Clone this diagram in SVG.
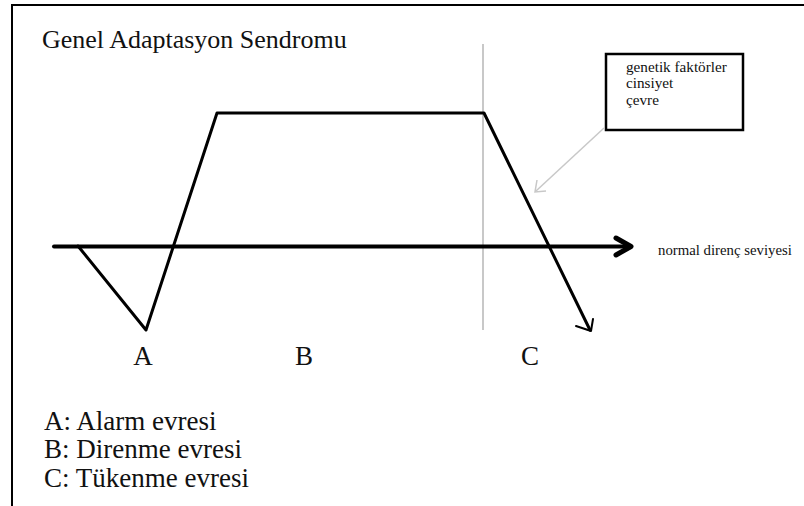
<svg xmlns="http://www.w3.org/2000/svg" width="804" height="506" viewBox="0 0 804 506">
<style>
text{font-family:"Liberation Serif","Times New Roman",serif;fill:#111}
.title{font-size:26px}
.lab{font-size:27px}
.leg{font-size:27px}
.small{font-size:15.2px}
.ln{fill:none;stroke:#000;stroke-linecap:round;stroke-linejoin:round}
.gr{fill:none;stroke:#c8c8c8}
</style>
<rect width="804" height="506" fill="#fff"/>
<g id="frame">
<line x1="12" y1="4" x2="12" y2="506" stroke="#000" stroke-width="2"/>
<line x1="11" y1="5" x2="804" y2="5" stroke="#000" stroke-width="2"/>
</g>
<g id="title"><text class="title" x="42" y="48">Genel Adaptasyon Sendromu</text></g>
<g id="divider"><line class="gr" x1="483" y1="44" x2="483" y2="330" stroke-width="2"/></g>
<g id="factors">
<rect x="606" y="54" width="137" height="76" fill="#fff" stroke="#000" stroke-width="2.5"/>
<text class="small" x="626" y="72">genetik faktörler</text>
<text class="small" x="626" y="88">cinsiyet</text>
<text class="small" x="626" y="105">çevre</text>
</g>
<g id="axis">
<line class="ln" x1="54" y1="246.5" x2="628" y2="246.5" stroke-width="4"/>
<polyline class="ln" points="616,238 631,246.5 616,255" stroke-width="5"/>
<text class="small" x="658" y="255" style="font-size:14.8px">normal direnç seviyesi</text>
</g>
<g id="connectors">
<polyline class="ln" points="78,246 146,330 217,113 484,113 590,330" stroke-width="3"/>
<polyline class="ln" points="576,326 591,331 593,319" stroke-width="2"/>
<line class="gr" x1="604" y1="128" x2="536" y2="191" stroke-width="1.5"/>
<polyline class="gr" points="537,180 535,192 546,191" stroke-width="1.5"/>
</g>
<g id="labels">
<text class="lab" x="143" y="365" text-anchor="middle">A</text>
<text class="lab" x="304" y="365" text-anchor="middle">B</text>
<text class="lab" x="530" y="365" text-anchor="middle">C</text>
</g>
<g id="legend">
<text class="leg" x="44" y="430">A: Alarm evresi</text>
<text class="leg" x="44" y="458">B: Direnme evresi</text>
<text class="leg" x="44" y="487">C: Tükenme evresi</text>
</g>
</svg>
